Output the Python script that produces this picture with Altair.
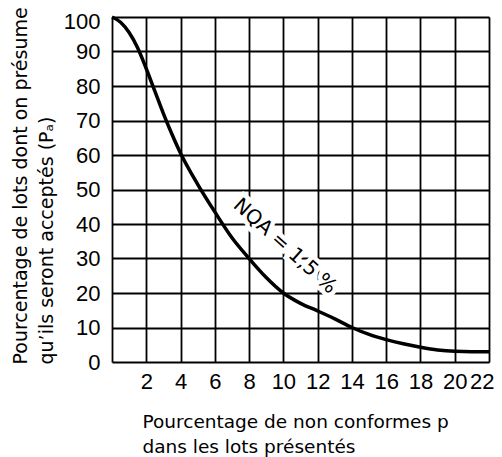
import altair as alt
import pandas as pd

# Data
p_values = [0, 0.5, 1, 1.5, 2, 2.5, 3, 3.5, 4, 5, 6, 7, 8, 9, 10, 11, 12, 13, 14, 15, 16, 17, 18, 19, 20, 21, 22]
pa_values = [100, 98.5, 95.5, 91, 85, 78.5, 72, 66, 60.5, 51.5, 43.5, 36, 30, 24.5, 20, 17, 14.8, 12.5, 10, 8, 6.5, 5.3, 4.3, 3.5, 3.1, 3, 3]

x_ticks = [0, 2, 4, 6, 8, 10, 12, 14, 16, 18, 20, 22]
y_ticks = [0, 10, 20, 30, 40, 50, 60, 70, 80, 90, 100]

label_text = ["NQA = 1,5 %"]
label_x = [10.1]
label_y = [33.6]

x_title = ["Pourcentage de non conformes p", "dans les lots présentés"]
y_title = ["Pourcentage de lots dont on présume", "qu’ils seront acceptés (Pₐ)"]

curve = pd.DataFrame({"p": p_values, "pa": pa_values})
lab = pd.DataFrame({"p": label_x, "pa": label_y, "t": label_text})

tick_font = "Liberation Sans"
title_font = "DejaVu Sans"

x_scale = alt.Scale(domain=[0, 22], nice=False, zero=False)
y_scale = alt.Scale(domain=[0, 100], nice=False, zero=False)

x_axis = alt.Axis(
    values=x_ticks, labelExpr="datum.value == 0 ? '' : datum.label",
    grid=True, gridColor="black", gridWidth=1.8, gridOpacity=1,
    domain=False, ticks=False, labelPadding=9, labelOverlap=False,
    labelFont=tick_font, labelFontSize=22, labelColor="black",
    title=x_title, titleFont=title_font, titleFontSize=18.5, titleFontWeight="normal",
    titleColor="black", titleAlign="left", titleBaseline="top",
    titleX=30, titleY=50, titleLineHeight=25,
    labelFlush=True, labelFlushOffset=5,
)
y_axis = alt.Axis(
    values=y_ticks, grid=True, gridColor="black", gridWidth=1.8, gridOpacity=1,
    domain=False, ticks=False, labelPadding=12, labelOverlap=False,
    labelFont=tick_font, labelFontSize=22, labelColor="black",
    labelOffset={"condition": {"test": "datum.value == 100", "value": 4}, "value": 0},
    title=y_title, titleFont=title_font, titleFontSize=19, titleFontWeight="normal",
    titleColor="black", titleAlign="left", titleBaseline="top", titleAngle=270,
    titleX=-101, titleY=347, titleLineHeight=26, labelFlush=False,
)

X = alt.X("p:Q", scale=x_scale, axis=x_axis)
Y = alt.Y("pa:Q", scale=y_scale, axis=y_axis)

line = alt.Chart(curve).mark_line(color="black", strokeWidth=3.5, interpolate="monotone").encode(
    x=X, y=Y,
)

halo = alt.Chart(lab).mark_text(
    angle=42, font=title_font, fontSize=20, stroke="white", strokeWidth=9,
    fill="white", align="center", baseline="middle",
).encode(x=X, y=Y, text="t:N")

text = alt.Chart(lab).mark_text(
    angle=42, font=title_font, fontSize=20, color="black",
    align="center", baseline="middle",
).encode(x=X, y=Y, text="t:N")

chart = alt.layer(line, halo, text).properties(
    width=377, height=345,
    autosize=alt.AutoSizeParams(type="none"),
    padding={"left": 104, "top": 9, "right": 5, "bottom": 95},
).configure_view(stroke="black", strokeWidth=3.5).configure(background="white")

chart.save("out.html", embed_options={"renderer": "svg", "actions": False})
